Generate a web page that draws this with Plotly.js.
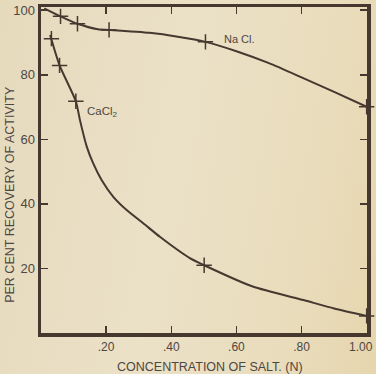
<!DOCTYPE html>
<html>
<head>
<meta charset="utf-8">
<script src="https://cdn.plot.ly/plotly-3.0.1.min.js"></script>
<style>
html,body{margin:0;padding:0;}
body{width:376px;height:374px;background:linear-gradient(100deg,#e6dabd 0%,#ebe1c7 45%,#e9dcbb 80%,#e6d6ae 100%);}
#chart{width:376px;height:374px;}
</style>
</head>
<body>
<div id="chart"></div>
<script>
// NaCl curve
const naclCurveX = [0.010, 0.060, 0.112, 0.175, 0.209, 0.334, 0.420, 0.505, 0.600, 0.700, 0.800, 0.900, 1.000];
const naclCurveY = [100.6, 98.1, 95.8, 94.1, 93.9, 93.0, 91.8, 90.2, 87.3, 83.6, 79.2, 74.7, 70.1];
// NaCl measured points (crosses)
const naclPtsX = [0.060, 0.112, 0.209, 0.505, 1.000];
const naclPtsY = [98.1, 95.8, 93.9, 90.2, 70.1];

// CaCl2 curve
const caclCurveX = [0.028, 0.057, 0.107, 0.120, 0.140, 0.160, 0.186, 0.222, 0.263, 0.314, 0.365, 0.457, 0.501, 0.650, 0.806, 0.900, 1.000];
const caclCurveY = [92.3, 82.9, 71.8, 65.8, 57.9, 52.6, 47.4, 42.2, 38.1, 34.0, 29.8, 23.2, 21.0, 14.4, 10.2, 7.6, 5.3];
// CaCl2 measured points
const caclPtsX = [0.032, 0.057, 0.107, 0.501, 1.000];
const caclPtsY = [91.2, 82.9, 71.8, 21.0, 5.3];

const xTickVals = [0.2, 0.4, 0.6, 0.8, 1.0];
const xTickText = ['.20', '.40', '.60', '.80', ''];
const xLastTickText = '1.00';
const yTickVals = [20, 40, 60, 80, 100];
const yTickText = ['20', '40', '60', '80', '100'];

const ink = '#46382f';
const txt = '#4d4742';
const fontFam = 'Liberation Sans, Arial, sans-serif';

const traces = [
  {x: naclCurveX, y: naclCurveY, mode: 'lines', line: {color: ink, width: 2, shape: 'spline', smoothing: 0.6}, hoverinfo: 'skip', cliponaxis: false},
  {x: naclPtsX, y: naclPtsY, mode: 'markers', marker: {symbol: 'cross-thin', size: 11, line: {color: ink, width: 1.5}}, cliponaxis: false},
  {x: caclCurveX, y: caclCurveY, mode: 'lines', line: {color: ink, width: 2, shape: 'spline', smoothing: 0.6}, hoverinfo: 'skip', cliponaxis: false},
  {x: caclPtsX, y: caclPtsY, mode: 'markers', marker: {symbol: 'cross-thin', size: 11, line: {color: ink, width: 1.5}}, cliponaxis: false}
];

const layout = {
  width: 376, height: 374,
  margin: {l: 41, r: 9, t: 7, b: 41},
  paper_bgcolor: 'rgba(0,0,0,0)',
  plot_bgcolor: 'rgba(0,0,0,0)',
  showlegend: false,
  font: {family: fontFam, color: txt},
  xaxis: {
    range: [0, 1.001], tickvals: xTickVals, ticktext: xTickText,
    ticks: 'inside', ticklen: 7, tickwidth: 1.5, tickcolor: ink,
    showline: true, linecolor: ink, linewidth: 3.5, mirror: 'ticks',
    showgrid: false, zeroline: false,
    tickfont: {size: 12, color: txt, family: fontFam}
  },
  yaxis: {
    range: [0, 101], tickvals: yTickVals, ticktext: yTickText,
    ticks: 'inside', ticklen: 7, tickwidth: 1.5, tickcolor: ink,
    showline: true, linecolor: ink, linewidth: 3.5, mirror: 'ticks',
    showgrid: false, zeroline: false, ticklabeloverflow: 'allow',
    tickfont: {size: 13, color: txt, family: fontFam}
  },
  annotations: [
    {text: xLastTickText, xref: 'paper', yref: 'paper', x: 1.026, y: -0.042, xanchor: 'right', yanchor: 'middle', showarrow: false, font: {size: 12, color: txt, family: fontFam}},
    {text: 'CONCENTRATION OF SALT. (N)', xref: 'paper', yref: 'paper', x: 0.518, y: -0.105, xanchor: 'center', yanchor: 'middle', showarrow: false, font: {size: 12.5, color: txt, family: fontFam}},
    {text: 'PER CENT RECOVERY OF ACTIVITY', xref: 'paper', yref: 'paper', x: -0.094, y: 0.425, xanchor: 'center', yanchor: 'middle', textangle: -90, showarrow: false, font: {size: 12.5, color: txt, family: fontFam}},
    {text: 'Na Cl.', x: 0.61, y: 91.1, xanchor: 'center', yanchor: 'middle', showarrow: false, font: {size: 11, color: txt, family: fontFam}},
    {text: 'CaCl<sub>2</sub>', x: 0.188, y: 68.5, xanchor: 'center', yanchor: 'middle', showarrow: false, font: {size: 11.5, color: txt, family: fontFam}}
  ]
};

Plotly.newPlot('chart', traces, layout, {staticPlot: true, displayModeBar: false});
</script>
</body>
</html>
